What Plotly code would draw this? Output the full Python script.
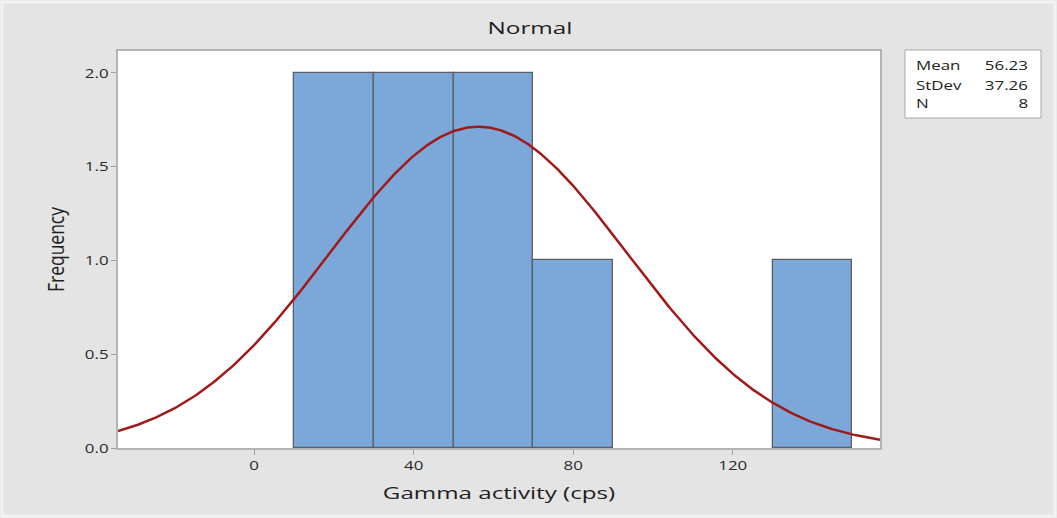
import numpy as np
import plotly.graph_objects as go

# Histogram data
bin_lefts = [10, 30, 50, 70, 130]
bin_width = 20
frequencies = [2, 2, 2, 1, 1]

# Fitted normal statistics
mean = 56.23
stdev = 37.26
n_obs = 8

x_ticks = [0, 40, 80, 120]
y_ticks = [0.0, 0.5, 1.0, 1.5, 2.0]

centers = [b + bin_width / 2 for b in bin_lefts]

xr = [-34.1, 156.9]
xs = np.linspace(xr[0], xr[1], 400)
ys = n_obs * bin_width / (stdev * np.sqrt(2 * np.pi)) * np.exp(-0.5 * ((xs - mean) / stdev) ** 2)

font = "Open Sans, DejaVu Sans, sans-serif"

fig = go.Figure()
fig.add_trace(go.Bar(
    x=centers, y=frequencies, width=[bin_width] * len(centers),
    marker=dict(color="#7ba7d9", line=dict(color="#5a5f66", width=1.3)),
    hoverinfo="skip", showlegend=False,
))
fig.add_trace(go.Scatter(
    x=xs, y=ys, mode="lines", line=dict(color="#a01a1a", width=2.5),
    hoverinfo="skip", showlegend=False,
))

L, R, T, B = 118, 880, 51, 448
W, H = 1057, 518
pw, ph = R - L, B - T

def px(x):
    return (x - L) / pw

def py(y):
    return (B - y) / ph

fig.update_layout(
    width=W, height=H,
    margin=dict(l=L, r=W - R, t=T, b=H - B, pad=0),
    paper_bgcolor="#e4e4e4", plot_bgcolor="#ffffff",
    font=dict(family=font, color="#222222", size=13),
    bargap=0,
    title=dict(text="Normal", x=(530) / W, xanchor="center", y=1 - 28 / H, yanchor="middle",
               font=dict(size=17, color="#1e1e1e", family=font)),
    xaxis=dict(range=xr, tickvals=x_ticks, ticks="outside", ticklen=5, tickcolor="#a0a0a0",
               showline=True, linecolor="#b4b4b4", linewidth=1.5, mirror=True,
               showgrid=False, zeroline=False,
               tickfont=dict(size=13, color="#2a2a2a"),
               title=dict(text="Gamma activity (cps)", font=dict(size=17, color="#1e1e1e"), standoff=14)),
    yaxis=dict(range=[0, 2.117], tickvals=y_ticks, tickformat=".1f", ticks="outside", ticklen=5,
               tickcolor="#a0a0a0",
               showline=True, linecolor="#b4b4b4", linewidth=1.5, mirror=True,
               showgrid=False, zeroline=False,
               tickfont=dict(size=13, color="#2a2a2a"),
               title=dict(text="Frequency", font=dict(size=21, color="#1e1e1e"), standoff=20)),
    shapes=[
        dict(type="rect", xref="paper", yref="paper",
             x0=px(905), x1=px(1041), y0=py(118), y1=py(50),
             line=dict(color="#a8a8a8", width=1), fillcolor="#ffffff", layer="below"),
        dict(type="rect", xref="paper", yref="paper",
             x0=px(2), x1=px(W - 2), y0=py(H - 2), y1=py(2),
             line=dict(color="#f2f2f2", width=3), fillcolor="rgba(0,0,0,0)"),
    ],
)

rows = [("Mean", f"{mean:.2f}", 66), ("StDev", f"{stdev:.2f}", 85), ("N", f"{n_obs}", 103)]
for lab, val, yy in rows:
    fig.add_annotation(xref="paper", yref="paper", x=px(914), y=py(yy), text=lab,
                       showarrow=False, xanchor="left", yanchor="middle", align="left",
                       font=dict(size=12.5, color="#222222"))
    fig.add_annotation(xref="paper", yref="paper", x=px(1030), y=py(yy), text=val,
                       showarrow=False, xanchor="right", yanchor="middle", align="right",
                       font=dict(size=12.5, color="#222222"))

post = """
document.body.style.margin='0';
document.body.style.overflow='hidden';
function st(sel, f){document.querySelectorAll(sel).forEach(function(t){
  var w = t.getComputedTextLength();
  if (w > 0) { t.setAttribute('textLength', (w*f).toFixed(2)); t.setAttribute('lengthAdjust','spacingAndGlyphs'); }
});}
function setLen(sel, len){document.querySelectorAll(sel).forEach(function(t){
  t.setAttribute('textLength', len); t.setAttribute('lengthAdjust','spacingAndGlyphs');
});}
st('.gtitle', 1.43);
st('.xtitle', 1.42);
st('.xtick text', 1.3);
st('.ytick text', 1.3);
st('.annotation-text', 1.35);
setLen('.ytitle', 85);
"""

fig.write_html("out.html", post_script=post, config={"displayModeBar": False})
